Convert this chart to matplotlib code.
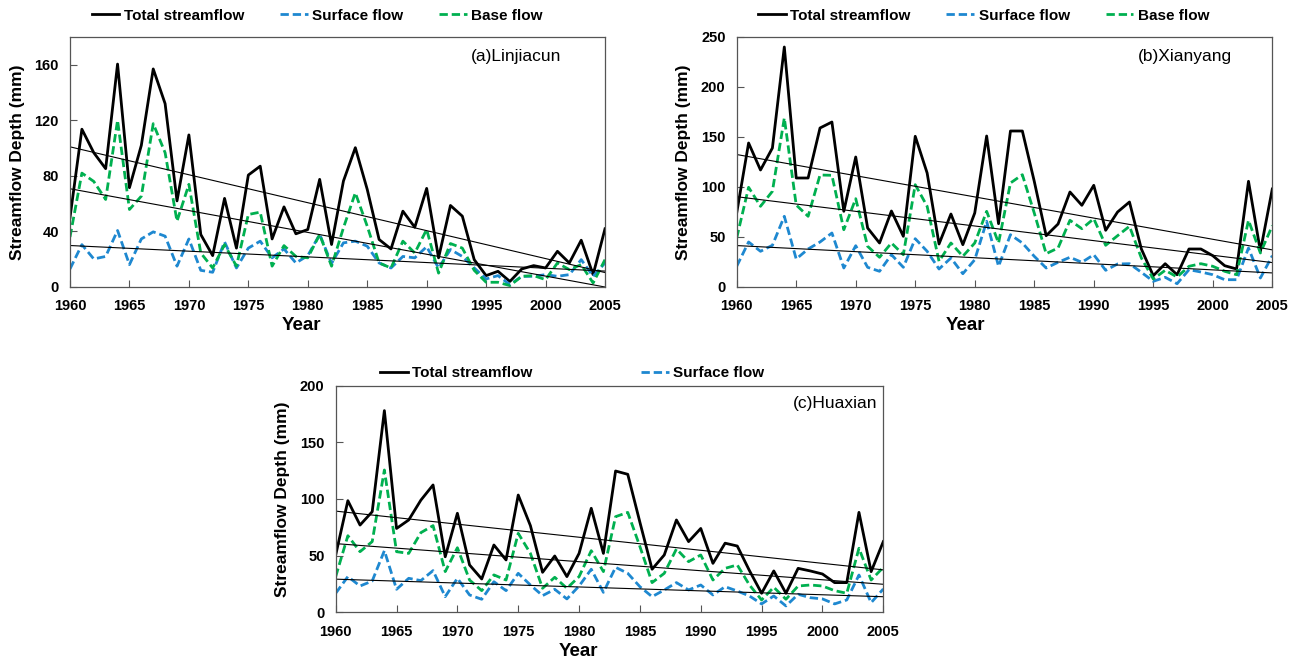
import numpy as np
import matplotlib
matplotlib.use("Agg")
import matplotlib.pyplot as plt

plt.rcParams['font.family'] = ['Liberation Sans', 'DejaVu Sans']

years = list(range(1960, 2006))

# (a) Linjiacun
a_total = [50, 113.6, 96.7, 85.2, 160.5, 71.5, 102, 157, 132, 62, 109.5, 37.8, 22.6, 63.8, 28, 80.6,
           87, 34.6, 57.7, 38.3, 41.4, 77.5, 30.6, 76.3, 100.3, 70.3, 34.2, 27.4, 54.6, 43, 71, 21,
           58.7, 51, 19.7, 8.2, 11.3, 4, 13, 15.4, 13.7, 25.7, 17.3, 33.7, 8.9, 41.9]
a_surface = [13, 30.5, 20.2, 22, 40.7, 16.1, 34.6, 39.7, 36.6, 15, 34.6, 12, 10.6, 32.5, 13.7, 28,
             33, 21, 27.4, 17.3, 22.6, 37.8, 17, 31.8, 33, 29.4, 17.3, 13.7, 22, 21, 29, 13.7,
             27, 22, 13.7, 5.8, 8.2, 1.7, 7.7, 7.7, 8.9, 7.7, 8.9, 19.7, 7.7, 17.3]
a_base = [36, 82, 76, 63, 120, 55.8, 65.4, 117.6, 96.7, 47.4, 73.9, 24.5, 13.7, 30.5, 15, 52.2,
          53.9, 15, 29.8, 22, 21, 37.8, 15, 42.6, 67.8, 43.8, 17.3, 13.7, 33, 24.5, 41.4, 10,
          31.3, 28, 12, 3.4, 3.4, 1, 7.7, 8.2, 5.3, 17.3, 12.5, 16.1, 2.9, 19.7]

# (b) Xianyang
b_total = [74, 144, 117, 139, 240, 109, 109, 159, 165, 75.7, 130, 59, 44, 76, 50.7, 150.7,
           114, 43, 73, 42.3, 74, 151, 63.3, 156, 156, 105.7, 51.3, 63, 95, 81.7, 101.7, 56.7,
           75, 85, 38, 11.3, 23.3, 12.3, 38, 38, 31.3, 21.3, 18, 105.7, 35.7, 98]
b_surface = [20.7, 45, 35.7, 41.7, 70.7, 28, 38, 45, 54, 19, 41.3, 19.7, 15.7, 32.3, 19.7, 48.3,
             35.7, 18, 29, 13.3, 27.3, 65.7, 20.7, 52.3, 44, 30.7, 19, 24.7, 29.7, 24.7, 32.3, 16.7,
             23, 23.3, 14.7, 5.7, 9.7, 3.3, 17.3, 15, 12.3, 7.3, 7.3, 39, 9, 31.3]
b_base = [49, 99.7, 80.7, 95.7, 169, 82, 70.7, 112, 111.7, 57.3, 88.3, 40.7, 29.7, 44, 32.3, 102.3,
          80.7, 25.7, 44, 30.7, 44, 75.7, 44, 104, 112.3, 74, 33.3, 39, 66.7, 58.3, 68.3, 41.7,
          51.3, 60.7, 29, 8, 16.7, 10, 20.7, 23.3, 20.7, 15.7, 12.3, 66.7, 34, 61.3]

# (c) Huaxian
c_total = [50.6, 98.5, 77, 88.8, 178, 74, 81.5, 99, 112.4, 49, 87.4, 41.8, 29.4, 59.4, 46.2, 103.5,
           76.5, 35.3, 49.7, 31.5, 52, 91.8, 52, 124.7, 121.8, 79.4, 38, 50.6, 81.5, 62.4, 74, 43.2,
           61, 58.5, 36.8, 16.8, 36.5, 16.8, 38.8, 36.5, 33.8, 26.2, 26.2, 88.2, 35.9, 62.4]
c_surface = [16.8, 31.5, 23.2, 27.6, 54.4, 20.3, 30, 28, 36.8, 13.8, 30, 15.3, 11.5, 27, 19.1, 34.4,
             24.1, 14.7, 20.3, 11.8, 23.2, 38, 17.6, 39.7, 34.4, 22.6, 13.8, 19.7, 26.2, 19.7, 24.1, 15.3,
             22.6, 18.8, 14.4, 7.4, 14.4, 5.6, 15.9, 12.9, 11.8, 7.4, 10.9, 32.9, 8.5, 20.6]
c_base = [31.5, 67.6, 53.5, 62.4, 125.6, 53.5, 52, 70.3, 76.5, 35.9, 57, 28.5, 19.1, 33, 28.5, 69.7,
          52, 21.2, 30.9, 21.2, 31.5, 54.4, 35.9, 84.4, 88.2, 58, 26.2, 34.4, 55.9, 44.7, 50.6, 28.5,
          38.8, 41.8, 24.1, 10.9, 22.1, 11.5, 23.2, 24.1, 23.2, 19.1, 16.8, 56.5, 28.5, 39.7]

titles = ['(a)Linjiacun', '(b)Xianyang', '(c)Huaxian']
yticks_list = [[0, 40, 80, 120, 160], [0, 50, 100, 150, 200, 250], [0, 50, 100, 150, 200]]
ylims = [180, 250, 200]
xticks = [1960, 1965, 1970, 1975, 1980, 1985, 1990, 1995, 2000, 2005]

BLUE = '#1E88D0'
GREEN = '#00B050'
W, H = 1299, 659
fig = plt.figure(figsize=(W / 100, H / 100), dpi=100)

def frac(l, r, t, b):
    return [l / W, 1 - b / H, (r - l) / W, (b - t) / H]

rects = [frac(70, 605, 37, 287), frac(736.7, 1272.3, 37, 287), frac(335.7, 883.3, 385.7, 612.3)]
data = [(a_total, a_surface, a_base), (b_total, b_surface, b_base), (c_total, c_surface, c_base)]
leg_x = [0.462, 0.461, 0.432]
label_x = [0.918, 0.925, 0.99]
colsp = [2.35, 2.35, 7.1]
xlab_pos = [(0.432, -0.152), (0.428, -0.152), (0.444, -0.171)]

x = np.array(years)
for i in range(3):
    ax = fig.add_axes(rects[i])
    tot, sur, bas = data[i]
    l1, = ax.plot(x, tot, color='black', lw=2.0, label='Total streamflow')
    l2, = ax.plot(x, sur, color=BLUE, lw=2.0, ls=(0, (3, 1.4)), label='Surface flow')
    l3, = ax.plot(x, bas, color=GREEN, lw=2.0, ls=(0, (3, 1.4)), label='Base flow')
    for s in (tot, bas, sur):
        p = np.polyfit(x, s, 1)
        ax.plot(x, np.polyval(p, x), color='black', lw=0.8)
    ax.set_xlim(1960, 2005)
    ax.set_ylim(0, ylims[i])
    ax.set_xticks(xticks)
    ax.set_yticks(yticks_list[i])
    ax.tick_params(direction='in', length=5, width=0.8, color='#555555', labelsize=10.5)
    ax.tick_params(axis='x', pad=9)
    ax.tick_params(axis='y', pad=8)
    for lab in ax.get_xticklabels() + ax.get_yticklabels():
        lab.set_fontweight('bold')
    for sp in ax.spines.values():
        sp.set_color('#555555')
        sp.set_linewidth(0.9)
    ax.set_xlabel('Year', fontsize=13.5, fontweight='bold', va='center')
    ax.xaxis.set_label_coords(*xlab_pos[i])
    ax.set_ylabel('Streamflow Depth (mm)', fontsize=12.5, fontweight='bold', labelpad=7)
    ax.text(label_x[i], 0.92, titles[i], transform=ax.transAxes, ha='right', va='center', fontsize=12.5)
    handles = [l1, l2, l3] if i < 2 else [l1, l2]
    leg = ax.legend(handles=handles, loc='center', bbox_to_anchor=(leg_x[i], 1.085 if i < 2 else 1.055),
                    ncol=len(handles), frameon=False, fontsize=11, handlelength=1.8,
                    handletextpad=0.3, columnspacing=colsp[i], borderaxespad=0)
    for t in leg.get_texts():
        t.set_fontweight('bold')

fig.savefig('out.png', dpi=100)
